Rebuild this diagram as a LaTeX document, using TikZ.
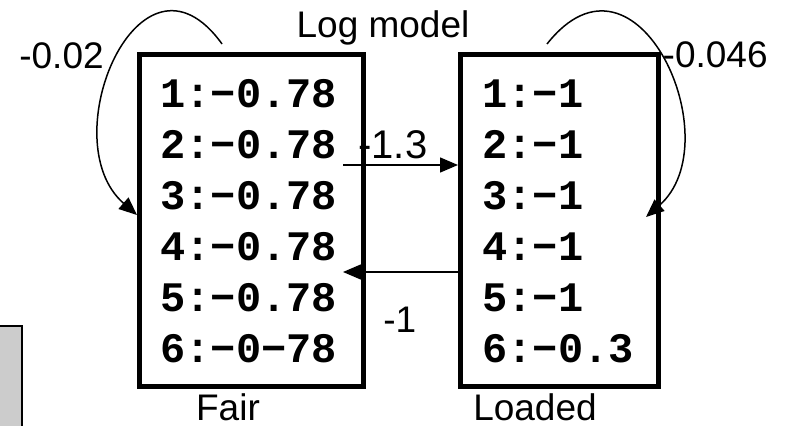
\documentclass[tikz,border=0pt]{standalone}
\usepackage{fontspec}
\setmainfont{Liberation Sans}
\setmonofont{Liberation Mono}
\usetikzlibrary{arrows.meta}

\begin{document}
\begin{tikzpicture}[x=0.5pt,y=0.5pt,
    state/.style={draw,line width=2.5pt,minimum width=#1,minimum height=166pt},
    prob/.style={anchor=base west,inner sep=0pt,font=\ttfamily\bfseries\fontsize{21}{21}\selectfont},
    lbl/.style={inner sep=0pt,font=\fontsize{18.5}{18.5}\selectfont},
    trans/.style={line width=0.75pt,-{Triangle[length=9pt,width=7.5pt]}}]
        \useasboundingbox (0,0) rectangle (787,425);
        \draw[fill=gray!40,line width=1pt] (-10,-10) rectangle (22,99);
        \node[state=111.75pt] (fair) at (251.25,205) {};
        \node[state=99pt] (loaded) at (559.5,205) {};
        \foreach \v [count=\i] in {−0.78,−0.78,−0.78,−0.78,−0.78,−0−78}
            \node[prob] (f\i) at (160,369-51*\i) {\i:\v};
        \foreach \v [count=\i] in {−1,−1,−1,−1,−1,−0.3}
            \node[prob] (l\i) at (482,369-51*\i) {\i:\v};
        \node[lbl,anchor=base] (title) at (383,388) {Log model};
        \node[lbl,anchor=base] (fairname) at (228,5) {Fair};
        \node[lbl,anchor=base] (loadedname) at (535,5) {Loaded};
        \draw[trans] ([xshift=-14.6pt,yshift=3.75pt]fair.north)
            .. controls +(-82,114) and +(-86,75) .. ([yshift=2.5pt]fair.west);
        \draw[trans] ([xshift=-6.25pt,yshift=3.75pt]loaded.north)
            .. controls +(90,114) and +(86,75) .. ([xshift=-7.5pt,yshift=1.5pt]loaded.east);
        \draw[trans] ([xshift=-11.25pt,yshift=27.5pt]fair.east) -- ([yshift=27.5pt]loaded.west);
        \draw[trans] ([yshift=-26pt]loaded.west) -- ([xshift=-11.25pt,yshift=-26pt]fair.east);
        \node[lbl,anchor=base] (ff) at (61.5,357) {-0.02};
        \node[lbl,anchor=base east] (ll) at (768,358) {-0.046};
        \node[lbl,anchor=base west,font=\fontsize{20}{20}\selectfont] (fl) at (358,267) {-1.3};
        \node[lbl,anchor=base west] (lf) at (383,93) {-1};
    \end{tikzpicture}
\end{document}
